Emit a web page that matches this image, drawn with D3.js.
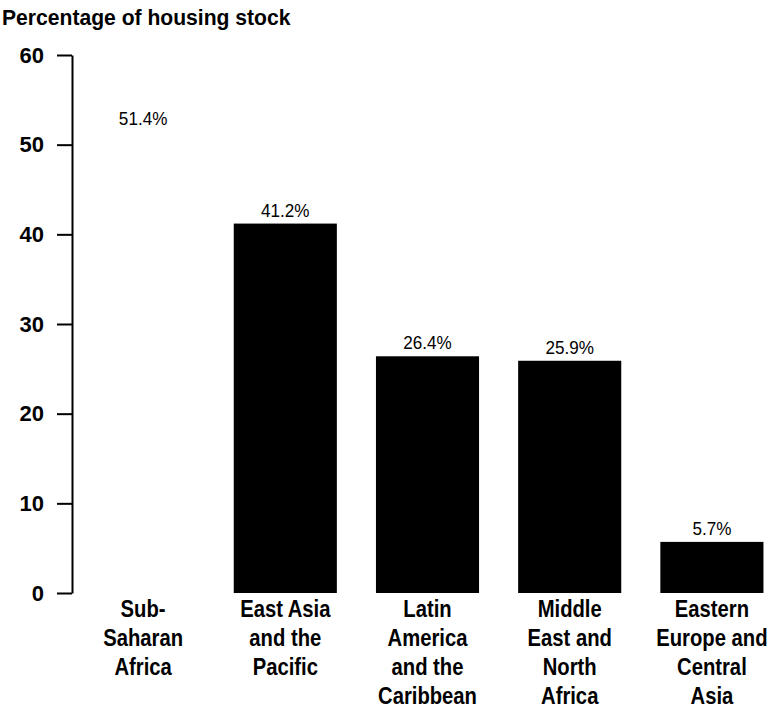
<!DOCTYPE html>
<html>
<head>
<meta charset="utf-8">
<script src="https://cdn.jsdelivr.net/npm/d3@7"></script>
<style>
  html, body { margin: 0; padding: 0; background: #fff; }
  svg { display: block; }
  text { font-family: "Liberation Sans", Arial, sans-serif; fill: #000; }
</style>
</head>
<body>
<svg id="chart" width="770" height="712"></svg>
<script>
const categories = [
  ["Sub-", "Saharan", "Africa"],
  ["East Asia", "and the", "Pacific"],
  ["Latin", "America", "and the", "Caribbean"],
  ["Middle", "East and", "North", "Africa"],
  ["Eastern", "Europe and", "Central", "Asia"]
];
const values = [51.4, 41.2, 26.4, 25.9, 5.7];
const valueLabels = ["51.4%", "41.2%", "26.4%", "25.9%", "5.7%"];
const yTicks = [0, 10, 20, 30, 40, 50, 60];
const yTitle = "Percentage of housing stock";

const svg = d3.select("#chart");

const x = d3.scaleBand()
  .domain(d3.range(categories.length))
  .range([72, 783])
  .paddingInner(0.275)
  .paddingOuter(0.1375);

const y = d3.scaleLinear().domain([0, 60]).range([593, 55]);

// title
svg.append("g").attr("transform", "translate(2,25) scale(0.96,1)")
  .append("text")
  .attr("font-size", 22).attr("font-weight", "bold")
  .text(yTitle);

// bars
svg.append("g").selectAll("rect")
  .data(values)
  .join("rect")
  .attr("x", (d, i) => x(i))
  .attr("width", x.bandwidth())
  .attr("y", d => y(d))
  .attr("height", d => y(0) - y(d))
  .attr("fill", (d, i) => i === 0 ? "#fff" : "#000");

// value labels
svg.append("g").selectAll("g")
  .data(values)
  .join("g")
  .attr("transform", (d, i) => `translate(${x(i) + x.bandwidth() / 2},${y(d) - 7}) scale(0.9,1)`)
  .append("text")
  .attr("text-anchor", "middle")
  .attr("font-size", 19)
  .text((d, i) => valueLabels[i]);

// y axis
const yAxis = d3.axisLeft(y).tickValues(yTicks).tickSize(15).tickSizeOuter(0).tickPadding(13);
const ag = svg.append("g").attr("transform", "translate(72,0)").call(yAxis);
ag.select(".domain").attr("stroke", "#000").attr("stroke-width", 2);
ag.selectAll(".tick line").attr("stroke", "#000").attr("stroke-width", 2);
ag.selectAll(".tick text")
  .attr("font-family", "'Liberation Sans', Arial, sans-serif")
  .attr("font-size", 22).attr("font-weight", "bold").attr("fill", "#000");

// category labels
const cg = svg.append("g").selectAll("g")
  .data(categories)
  .join("g")
  .attr("transform", (d, i) => `translate(${x(i) + x.bandwidth() / 2},617) scale(0.88,1)`);
cg.selectAll("text")
  .data(d => d)
  .join("text")
  .attr("text-anchor", "middle")
  .attr("y", (d, j) => j * 29)
  .attr("font-size", 23).attr("font-weight", "bold")
  .text(d => d);
</script>
</body>
</html>
